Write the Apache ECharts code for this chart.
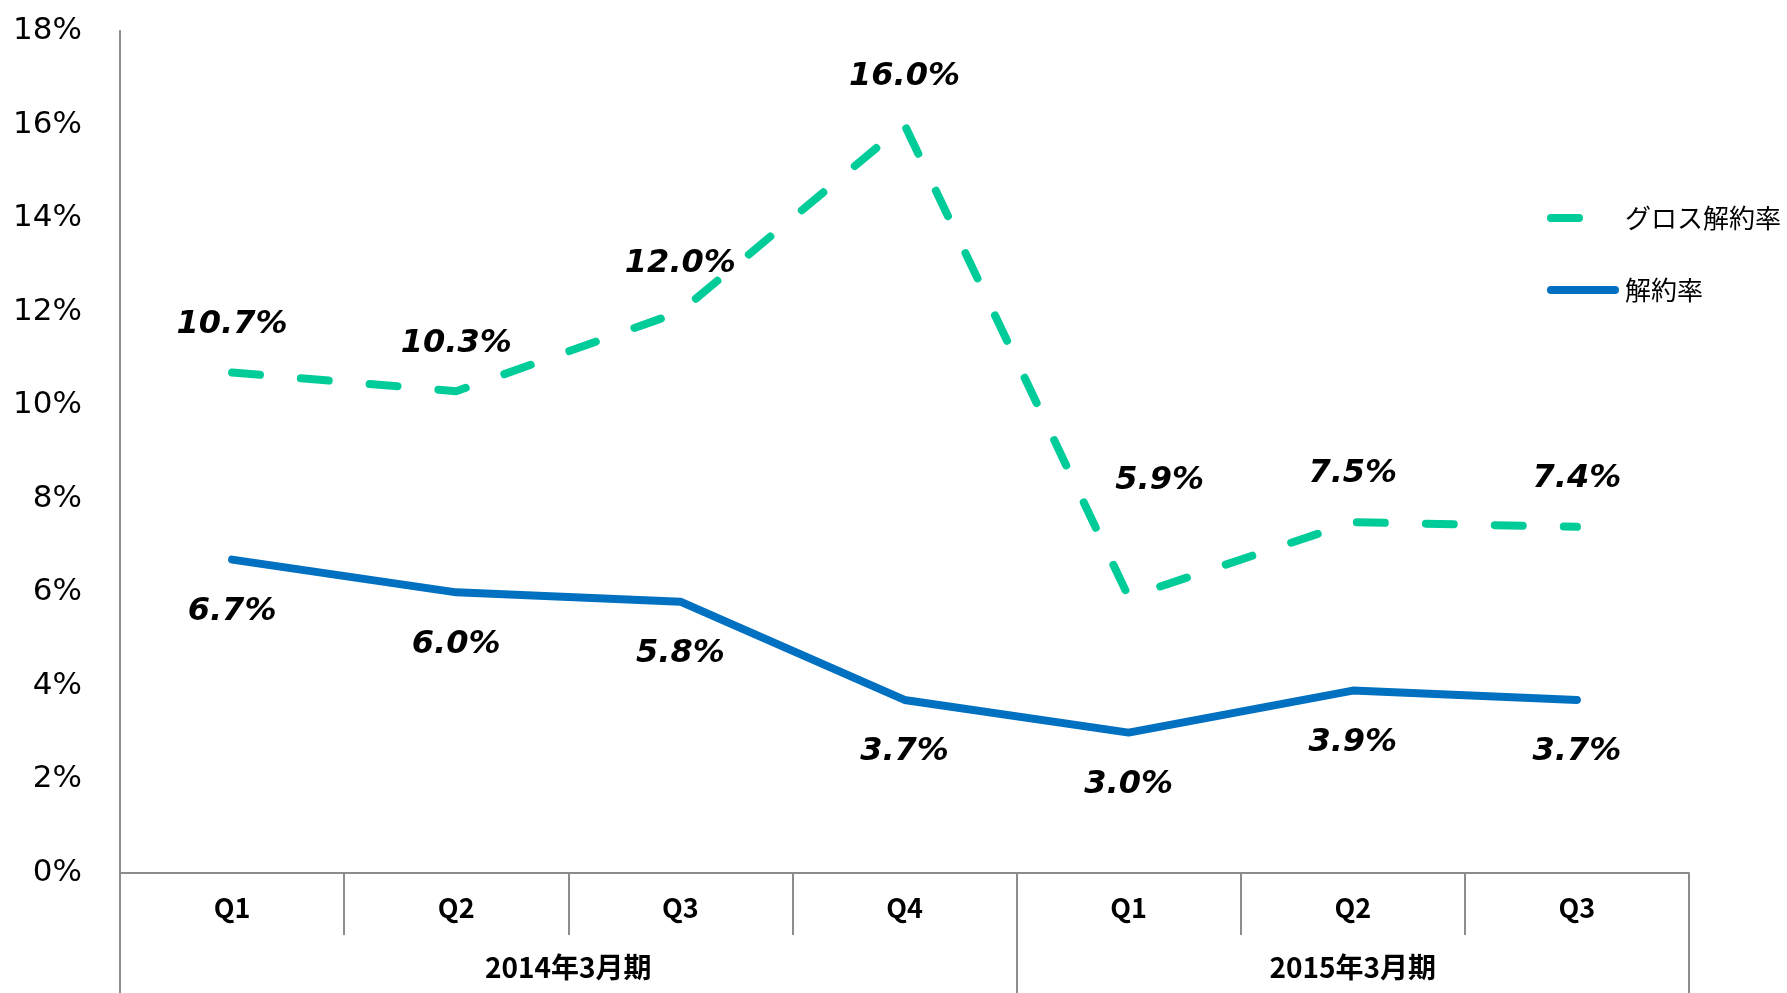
<!DOCTYPE html>
<html>
<head>
<meta charset="utf-8">
<script src="https://cdn.jsdelivr.net/npm/echarts@6/dist/echarts.min.js"></script>
<style>
  html, body { margin: 0; padding: 0; background: #fff; }
  #echarts { width: 1787px; height: 993px; }
</style>
</head>
<body>
<div id="echarts"></div>
<script>
  // データ
  const quarters = ['Q1', 'Q2', 'Q3', 'Q4', 'Q1', 'Q2', 'Q3'];
  const periods = ['2014年3月期', '2015年3月期'];
  const grossRate = [10.7, 10.3, 12.0, 16.0, 5.9, 7.5, 7.4];
  const churnRate = [6.7, 6.0, 5.8, 3.7, 3.0, 3.9, 3.7];
  const yTicks = [0, 2, 4, 6, 8, 10, 12, 14, 16, 18];

  const colors = ['#00CC99', '#0070C0'];
  const labelFont = 'DejaVu Sans, Verdana, sans-serif';
  const cjkFont = 'Noto Sans CJK JP, sans-serif';

  var myChart = echarts.init(document.getElementById('echarts'));

  // 5.9% のラベルだけ上に離れている
  const grossData = grossRate.map((v, i) => i === 4
    ? { value: v, label: { offset: [31, -68] } }
    : v);

  const dataLabel = {
    show: true,
    formatter: p => p.value.toFixed(1) + '%',
    fontSize: 32, fontWeight: 'bold', fontStyle: 'italic',
    color: '#000', fontFamily: labelFont
  };

  let option = {
    color: colors,
    animation: false,
    grid: { left: 120, right: 98, top: 31, bottom: 120 },
    legend: {
      orient: 'vertical',
      left: 1547,
      top: 205,
      padding: 0,
      itemWidth: 64,
      itemHeight: 14,
      itemGap: 46,
      itemStyle: { opacity: 0 },
      textStyle: { fontSize: 26, color: '#000', fontFamily: cjkFont, padding: [0, 0, 0, 5] },
      lineStyle: { width: 8 },
      data: ['グロス解約率', '解約率']
    },
    xAxis: [
      {
        type: 'category',
        data: quarters,
        boundaryGap: true,
        axisLine: { show: true, lineStyle: { color: '#8c8c8c', width: 2 } },
        axisTick: { show: true, length: 62, interval: 0, lineStyle: { color: '#8c8c8c', width: 2 } },
        axisLabel: {
          interval: 0, margin: 21, fontSize: 27, fontWeight: 'bold',
          color: '#000', fontFamily: cjkFont
        }
      },
      {
        type: 'value',
        position: 'bottom',
        min: 0,
        max: 7,
        splitLine: { show: false },
        axisLine: { show: false },
        axisTick: {
          show: true, length: 120, customValues: [0, 4, 7],
          lineStyle: { color: '#8c8c8c', width: 2 }
        },
        axisLabel: {
          customValues: [2, 5.5],
          margin: 80,
          fontSize: 28, fontWeight: 'bold', color: '#000', fontFamily: cjkFont,
          formatter: v => v === 2 ? periods[0] : periods[1]
        }
      }
    ],
    yAxis: {
      type: 'value',
      min: yTicks[0],
      max: yTicks[yTicks.length - 1],
      interval: 2,
      splitLine: { show: false },
      axisLine: { show: true, lineStyle: { color: '#8c8c8c', width: 2 } },
      axisTick: { show: false },
      axisLabel: {
        formatter: '{value}%', fontSize: 31, color: '#000', margin: 38,
        fontFamily: labelFont, padding: [0, 0, 14, 0]
      }
    },
    series: [
      {
        name: 'グロス解約率',
        type: 'line',
        xAxisIndex: 0,
        data: grossData,
        symbol: 'circle',
        symbolSize: 0,
        showSymbol: true,
        lineStyle: { width: 8, color: colors[0], type: [28, 41], cap: 'round' },
        label: Object.assign({}, dataLabel, { position: 'top', distance: 32 })
      },
      {
        name: '解約率',
        type: 'line',
        xAxisIndex: 0,
        data: churnRate,
        symbol: 'circle',
        symbolSize: 0,
        showSymbol: true,
        lineStyle: { width: 8, color: colors[1], cap: 'round' },
        label: Object.assign({}, dataLabel, { position: 'bottom', distance: 36 })
      }
    ]
  };
  myChart.setOption(option);
</script>
</body>
</html>
